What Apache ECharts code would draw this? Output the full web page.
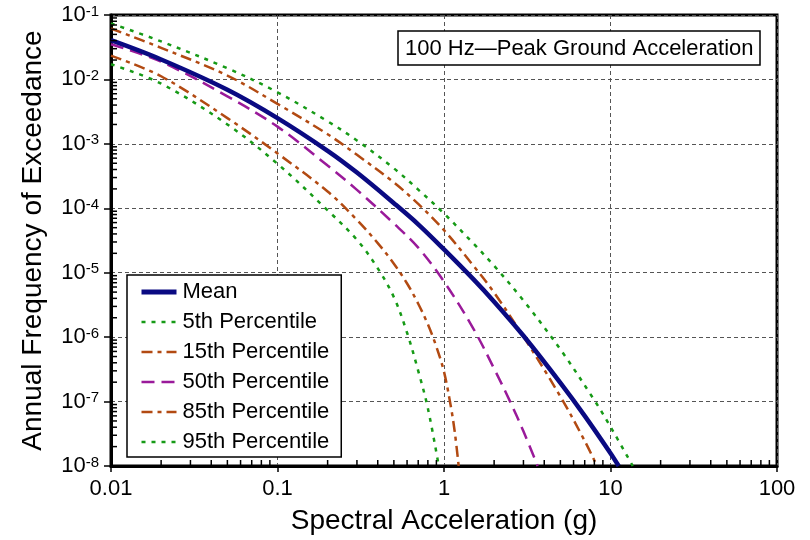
<!DOCTYPE html>
<html>
<head>
<meta charset="utf-8">
<script src="https://cdn.jsdelivr.net/npm/echarts@6/dist/echarts.min.js"></script>
<style>html,body{margin:0;padding:0;background:#fff;}#c{width:810px;height:540px;}</style>
</head>
<body>
<div id="c"></div>
<script>
// ---- Data ----
const meanX = [0.01, 0.02, 0.05, 0.1, 0.2, 0.3, 0.5, 0.7, 1, 1.5, 2, 3, 5, 7, 10, 11.2];
const meanY = [0.0407, 0.0204, 0.00692, 0.00251, 7.8e-4, 3.58e-4, 1.2e-4, 5.64e-5, 2.3e-5, 7.94e-6, 3.55e-6, 1.05e-6, 1.95e-7, 6.0e-8, 1.58e-8, 1e-8];

const p95X = [0.01, 0.02, 0.05, 0.1, 0.2, 0.3, 0.5, 0.7, 1, 1.5, 2, 3, 5, 8, 10, 13.6];
const p95Y = [0.0741, 0.0389, 0.0149, 0.00631, 0.00224, 0.00113, 4.17e-4, 1.95e-4, 8.3e-5, 2.85e-5, 1.28e-5, 3.7e-6, 6.46e-7, 1.05e-7, 4.07e-8, 1e-8];

const p85X = [0.01, 0.02, 0.05, 0.1, 0.2, 0.3, 0.5, 0.7, 1, 1.5, 2, 3, 5, 7, 8.3];
const p85Y = [0.0617, 0.0309, 0.0115, 0.00417, 0.00141, 6.76e-4, 2.51e-4, 1.17e-4, 4.57e-5, 1.29e-5, 4.9e-6, 1.02e-6, 1.2e-7, 2.45e-8, 1e-8];

const p50X = [0.01, 0.02, 0.05, 0.1, 0.2, 0.3, 0.5, 0.7, 1, 1.5, 2, 2.5, 3, 3.65];
const p50Y = [0.0351, 0.0188, 0.00546, 0.00185, 4.6e-4, 1.93e-4, 5.8e-5, 2.45e-5, 7.3e-6, 1.36e-6, 3.24e-7, 9.9e-8, 3.45e-8, 1e-8];

const p15X = [0.01, 0.02, 0.05, 0.1, 0.2, 0.3, 0.4, 0.5, 0.6, 0.7, 0.8, 0.9, 1.0, 1.1, 1.16, 1.225];
const p15Y = [0.0234, 0.0112, 0.00251, 7.1e-4, 1.82e-4, 6.6e-5, 2.88e-5, 1.38e-5, 6.8e-6, 3.3e-6, 1.58e-6, 7.1e-7, 2.9e-7, 8.3e-8, 3.4e-8, 1e-8];

const p5X = [0.01, 0.02, 0.05, 0.1, 0.2, 0.3, 0.4, 0.5, 0.6, 0.7, 0.8, 0.93];
const p5Y = [0.0172, 0.0086, 0.002, 4.9e-4, 9.3e-5, 3.24e-5, 1.17e-5, 4.17e-6, 1.17e-6, 3.0e-7, 7.9e-8, 1e-8];

const xTickLabels = ['0.01', '0.1', '1', '10', '100'];
const seriesNames = ['Mean', '5th Percentile', '15th Percentile', '50th Percentile', '85th Percentile', '95th Percentile'];
const chartTitle = '100 Hz\u2014Peak Ground Acceleration';
const xTitle = 'Spectral Acceleration (g)';
const yTitle = 'Annual Frequency of Exceedance';

// ---- helpers ----
function pairs(xs, ys) { return xs.map((x, i) => [x, ys[i]]); }

// minor log ticks (axis decoration)
const minorTicks = [];
for (let n = -2; n <= 1; n++) for (let k = 2; k <= 9; k++) minorTicks.push([k * Math.pow(10, n), 1e-8, 0]);
for (let n = -8; n <= -2; n++) for (let k = 2; k <= 9; k++) minorTicks.push([0.01, k * Math.pow(10, n), 1]);

const FONT = 'Liberation Sans, Arial, sans-serif';
const GREEN = '#169a16', BROWN = '#b24a12', PURPLE = '#9a1a9a', NAVY = '#0a0a82';

const legendData = seriesNames.map(n => ({name: n, lineStyle: {width: n === 'Mean' ? 5 : 2.5}}));

const chart = echarts.init(document.getElementById('c'), null, {renderer: 'canvas'});
chart.setOption({
  animation: false,
  backgroundColor: '#fff',
  textStyle: {fontFamily: FONT},
  title: {
    text: chartTitle,
    left: 398, top: 31,
    padding: [5, 7, 4, 7],
    borderColor: '#000', borderWidth: 1.5,
    backgroundColor: '#fff',
    textStyle: {fontSize: 22, fontWeight: 'normal', color: '#000', fontFamily: FONT, lineHeight: 25}
  },
  legend: {
    data: legendData,
    orient: 'vertical',
    left: 127, top: 275,
    padding: [6, 12, 4, 12],
    itemGap: 8,
    itemWidth: 35, itemHeight: 14,
    borderColor: '#000', borderWidth: 1.5,
    backgroundColor: '#fff',
    itemStyle: {opacity: 0},
    textStyle: {fontSize: 22, color: '#000', fontFamily: FONT, lineHeight: 22, padding: [0, 0, 0, 1]}
  },
  grid: {left: 111, top: 15, right: 33, bottom: 73.5, show: true, borderColor: '#000', borderWidth: 3, backgroundColor: 'transparent'},
  xAxis: {
    type: 'log', logBase: 10, min: 0.01, max: 100, splitNumber: 4,
    name: xTitle, nameLocation: 'middle', nameGap: 41,
    nameTextStyle: {fontSize: 28, color: '#000', fontFamily: FONT},
    axisLine: {lineStyle: {color: '#000', width: 3}},
    axisTick: {inside: false, length: 6, lineStyle: {color: '#000', width: 1.5}},
    axisLabel: {
      margin: 12, fontSize: 22, color: '#000', fontFamily: FONT,
      formatter: function (v) { const e = Math.round(Math.log10(v)); return xTickLabels[e + 2]; }
    },
    splitLine: {show: true, lineStyle: {color: '#555', type: [4, 3], width: 1}}
  },
  yAxis: {
    type: 'log', logBase: 10, min: 1e-8, max: 0.1, splitNumber: 7,
    name: yTitle, nameLocation: 'middle', nameGap: 64,
    nameTextStyle: {fontSize: 28, color: '#000', fontFamily: FONT},
    axisLine: {lineStyle: {color: '#000', width: 3}},
    axisTick: {inside: false, length: 7, lineStyle: {color: '#000', width: 1.5}},
    axisLabel: {
      margin: 12, color: '#000', fontFamily: FONT,
      formatter: function (v) { const e = Math.round(Math.log10(v)); return '{b|10}{s|' + e + '}'; },
      rich: {
        b: {fontSize: 22, lineHeight: 22, verticalAlign: 'bottom', fontFamily: FONT, color: '#000'},
        s: {fontSize: 15, lineHeight: 15, verticalAlign: 'top', fontFamily: FONT, color: '#000'}
      }
    },
    splitLine: {show: true, lineStyle: {color: '#555', type: [4, 3], width: 1}}
  },
  series: [
    {
      name: '95th Percentile', type: 'line', data: pairs(p95X, p95Y), symbol: 'none', smooth: 0.35, z: 3,
      lineStyle: {color: GREEN, width: 2.5, type: [4, 6]}, itemStyle: {color: GREEN}
    },
    {
      name: '85th Percentile', type: 'line', data: pairs(p85X, p85Y), symbol: 'none', smooth: 0.35, z: 3,
      lineStyle: {color: BROWN, width: 2.5, type: [11, 5, 4, 5]}, itemStyle: {color: BROWN}
    },
    {
      name: '50th Percentile', type: 'line', data: pairs(p50X, p50Y), symbol: 'none', smooth: 0.35, z: 3,
      lineStyle: {color: PURPLE, width: 2.5, type: [13, 7]}, itemStyle: {color: PURPLE}
    },
    {
      name: '15th Percentile', type: 'line', data: pairs(p15X, p15Y), symbol: 'none', smooth: 0.35, z: 3,
      lineStyle: {color: BROWN, width: 2.5, type: [11, 5, 4, 5]}, itemStyle: {color: BROWN}
    },
    {
      name: '5th Percentile', type: 'line', data: pairs(p5X, p5Y), symbol: 'none', smooth: 0.35, z: 3,
      lineStyle: {color: GREEN, width: 2.5, type: [4, 6]}, itemStyle: {color: GREEN}
    },
    {
      name: 'Mean', type: 'line', data: pairs(meanX, meanY), symbol: 'none', smooth: 0.35, z: 4,
      lineStyle: {color: NAVY, width: 4.5, type: 'solid'}, itemStyle: {color: NAVY}
    },
    {
      name: 'minorTicks', type: 'custom', silent: true, z: 5, clip: false,
      data: minorTicks,
      encode: {x: 0, y: 1},
      renderItem: function (params, api) {
        const pt = api.coord([api.value(0), api.value(1)]);
        const isY = api.value(2) === 1;
        return {
          type: 'line',
          shape: {x1: pt[0], y1: pt[1], x2: isY ? pt[0] + 6 : pt[0], y2: isY ? pt[1] : pt[1] - 6},
          style: {stroke: '#000', lineWidth: 1.5}
        };
      }
    }
  ]
});
</script>
</body>
</html>
